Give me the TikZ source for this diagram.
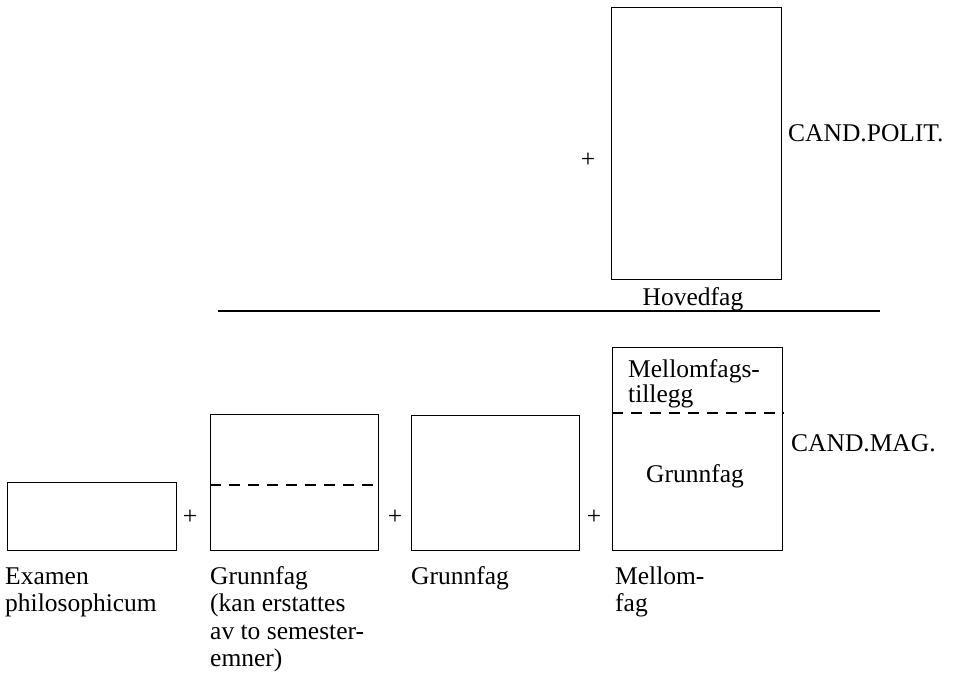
\documentclass[tikz,border=0pt]{standalone}
\usepackage{fontspec}
\setmainfont{Liberation Serif}
\begin{document}
\begin{tikzpicture}[x=1pt,y=-1pt,
  txt/.style={font=\fontsize{25.5}{27.5}\selectfont, inner sep=0pt},
  boxstyle/.style={draw, line width=1.4pt, inner sep=0pt, anchor=north west},
  dashline/.style={line width=1.4pt, dash pattern=on 11pt off 8pt},
  plus/.style={font=\fontsize{25.5}{27.5}\selectfont, inner sep=0pt}
]
\useasboundingbox (0,0) rectangle (959,673);

% upper part
\node[boxstyle, minimum width=170pt, minimum height=272pt] (hoved) at (611,7) {};
\node[plus] (p0) at (588,160) {+};
\node[txt, anchor=base west] (candpolit) at (788,141) {CAND.POLIT.};
\node[txt, anchor=base] (hovedlbl) at (693,305) {Hovedfag};

\coordinate (rl) at (218,311);
\coordinate (rr) at (880,311);
\draw[line width=1.4pt] (rl) -- (rr);

% lower boxes
\node[boxstyle, minimum width=169pt, minimum height=68pt] (b1) at (7,482) {};
\node[boxstyle, minimum width=168pt, minimum height=136pt] (b2) at (210,414) {};
\node[boxstyle, minimum width=168pt, minimum height=135pt] (b3) at (411,415) {};
\node[boxstyle, minimum width=170pt, minimum height=203pt] (b4) at (612,347) {};

\coordinate (d2l) at (210,485);
\coordinate (d4l) at (612,413);
\draw[dashline] (d2l) -- (d2l -| b2.east);
\draw[dashline] (d4l) -- (d4l -| b4.east);

\node[plus] (p1) at (190,517) {+};
\node[plus] (p2) at (395,517) {+};
\node[plus] (p3) at (594,517) {+};

% text in box 4
\node[txt, anchor=base west] (mt) at (628,377)
  {\fontsize{25.5}{25}\selectfont\begin{tabular}[t]{@{}l@{}}Mellomfags-\\tillegg\end{tabular}};
\node[txt, anchor=base] (g4) at (695,482) {Grunnfag};
\node[txt, anchor=base west] (candmag) at (791,451) {CAND.MAG.};

% labels below
\node[txt, anchor=base west] (l1) at (5,584)
  {\begin{tabular}[t]{@{}l@{}}Examen\\philosophicum\end{tabular}};
\node[txt, anchor=base west] (l2) at (210,584)
  {\begin{tabular}[t]{@{}l@{}}Grunnfag\\(kan erstattes\\av to semester-\\emner)\end{tabular}};
\node[txt, anchor=base west] (l3) at (411,584) {Grunnfag};
\node[txt, anchor=base west] (l4) at (615,584)
  {\begin{tabular}[t]{@{}l@{}}Mellom-\\fag\end{tabular}};
\end{tikzpicture}
\end{document}
